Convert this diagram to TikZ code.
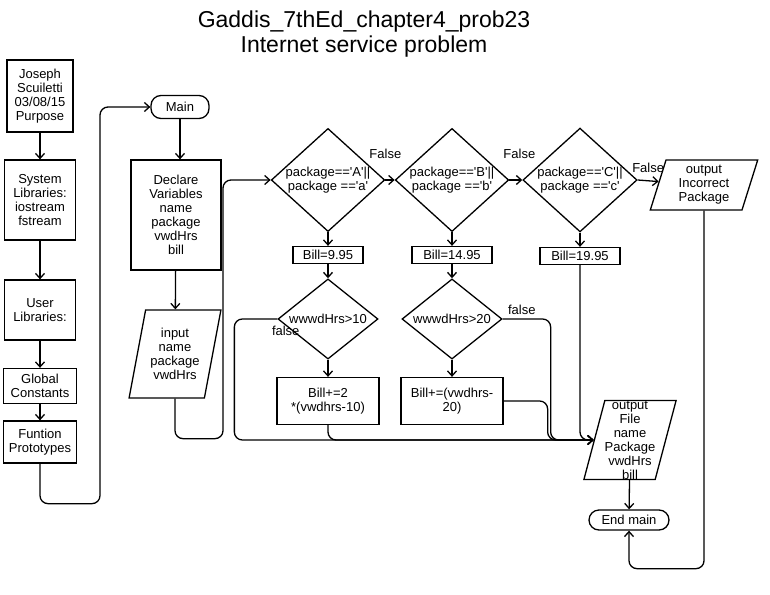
\documentclass[tikz,border=0pt]{standalone}
\usepackage{fontspec}
\setmainfont{Liberation Sans}
\usetikzlibrary{shapes.geometric,arrows.meta}
\newcommand{\sq}{\textquotesingle}

\begin{document}
\begin{tikzpicture}[x=1pt, y=-1pt,
  every node/.style={font=\fontsize{13}{14}\selectfont},
  box/.style={draw, line width=1.3pt, align=center, inner sep=0pt},
  term/.style={box, rounded corners=10pt},
  io/.style={box, trapezium, trapezium left angle=75, trapezium right angle=105, trapezium stretches=true},
  cond/.style={box, diamond, aspect=1.1},
  flow/.style={line width=1.3pt, rounded corners=8pt},
  >={Straight Barb[length=5pt, width=9pt]}]
  \useasboundingbox (0,0) rectangle (770,594);
  % titulo
  \node[font=\fontsize{23}{25}\selectfont, align=center] (title) at (364,34)
    {Gaddis\_7thEd\_chapter4\_prob23\\Internet service problem};
  % coluna da esquerda
  \node[box, minimum width=66, minimum height=72] (author) at (40,96) {Joseph\\Scuiletti\\03/08/15\\Purpose};
  \node[box, minimum width=71, minimum height=80] (syslib) at (40,200) {System\\Libraries:\\iostream\\fstream};
  \node[box, minimum width=71, minimum height=60] (userlib) at (40,310) {User\\Libraries:};
  \node[box, minimum width=73, minimum height=35] (globals) at (40,386) {Global\\Constants};
  \node[box, minimum width=73, minimum height=42] (protos) at (40,442) {Funtion\\Prototypes};
  % main
  \node[term, minimum width=58, minimum height=23] (main) at (180,107) {Main};
  \node[box, minimum width=90, minimum height=110] (declare) at (176,215) {Declare\\Variables\\name\\package\\vwdHrs\\bill};
  \node[io, minimum width=92, minimum height=88] (input) at (175,354) {input\\name\\package\\vwdHrs};
  % testes do pacote
  \node[cond, minimum width=110, minimum height=100] (pkgA) at (328,180) {package==\sq A\sq||\\package ==\sq a\sq};
  \node[cond, minimum width=112, minimum height=100] (pkgB) at (452,180) {package==\sq B\sq||\\package ==\sq b\sq};
  \node[cond, minimum width=108, minimum height=100] (pkgC) at (580,180) {package==\sq C\sq||\\package ==\sq c\sq};
  \node[io, minimum width=108, minimum height=50] (wrong) at (704,185) {output\\Incorrect\\Package};
  \node[box, minimum width=70, minimum height=17] (billA) at (328,255) {Bill=9.95};
  \node[box, minimum width=80, minimum height=17] (billB) at (452,255) {Bill=14.95};
  \node[box, minimum width=80, minimum height=17] (billC) at (580,256) {Bill=19.95};
  % horas extra
  \node[cond, minimum width=100, minimum height=58] (hrsA) at (328,319) {wwwdHrs>10};
  \node[cond, minimum width=100, minimum height=58] (hrsB) at (452,319) {wwwdHrs>20};
  \node[box, minimum width=102, minimum height=47] (extraA) at (328,401) {Bill+=2\\*(vwdhrs-10)};
  \node[box, minimum width=102, minimum height=47] (extraB) at (452,401) {Bill+=(vwdhrs-\\20)};
  % saida
  \node[io, minimum width=93, minimum height=79] (output) at (630,440) {output\\File\\name\\Package\\vwdHrs\\bill};
  \node[term, minimum width=80, minimum height=20] (endmain) at (629,520) {End main};
  % setas
  \draw[flow, ->] (author) -- (syslib);
  \draw[flow, ->] (syslib) -- (userlib);
  \draw[flow, ->] (userlib) -- (globals);
  \draw[flow, ->] (globals) -- (protos);
  \draw[flow, ->] (protos.south) |- ++(60,40) |- (main.west);
  \draw[flow, ->] (main.south) -- (main.south |- declare.north);
  \draw[flow, ->] (declare) -- (input);
  \draw[flow, ->] (input.south) |- ++(48,40) |- (pkgA.west);
  \draw[flow, ->] (pkgA.east) -- node[at start, above=17pt] {False} (pkgB.west);
  \draw[flow, ->] (pkgB.east) -- node[at start, above=17pt, xshift=10pt] {False} (pkgC.west);
  \draw[flow, ->] (pkgC.east) -- node[midway, above=4pt] {False} (wrong);
  \draw[flow, ->] (pkgA) -- (billA);
  \draw[flow, ->] (pkgB) -- (billB);
  \draw[flow, ->] (pkgC) -- (billC);
  \draw[flow, ->] (billA) -- (hrsA);
  \draw[flow, ->] (billB) -- (hrsB);
  \draw[flow, ->] (hrsA) -- (extraA);
  \draw[flow, ->] (hrsB) -- (extraB);
  % ramos para a saida
  \draw[flow, ->] (hrsA.west) -- node[at start, anchor=north west, inner sep=0pt, xshift=-6pt, yshift=-6pt] {false} ++(-43,0) |- (output.west);
  \draw[flow, ->] (extraA.south) |- (output.west);
  \draw[flow, ->] (hrsB.east) -- node[pos=0.4, above] {false} ++(48,0) |- (output.west);
  \draw[flow, ->] (extraB.east) -- ++(44,0) |- (output.west);
  \draw[flow, ->] (billC.south) |- (output.west);
  \draw[flow, ->] (output) -- (endmain);
  \draw[flow, ->] (wrong.south) -- ++(0,358) -| (endmain.south);
\end{tikzpicture}
\end{document}
